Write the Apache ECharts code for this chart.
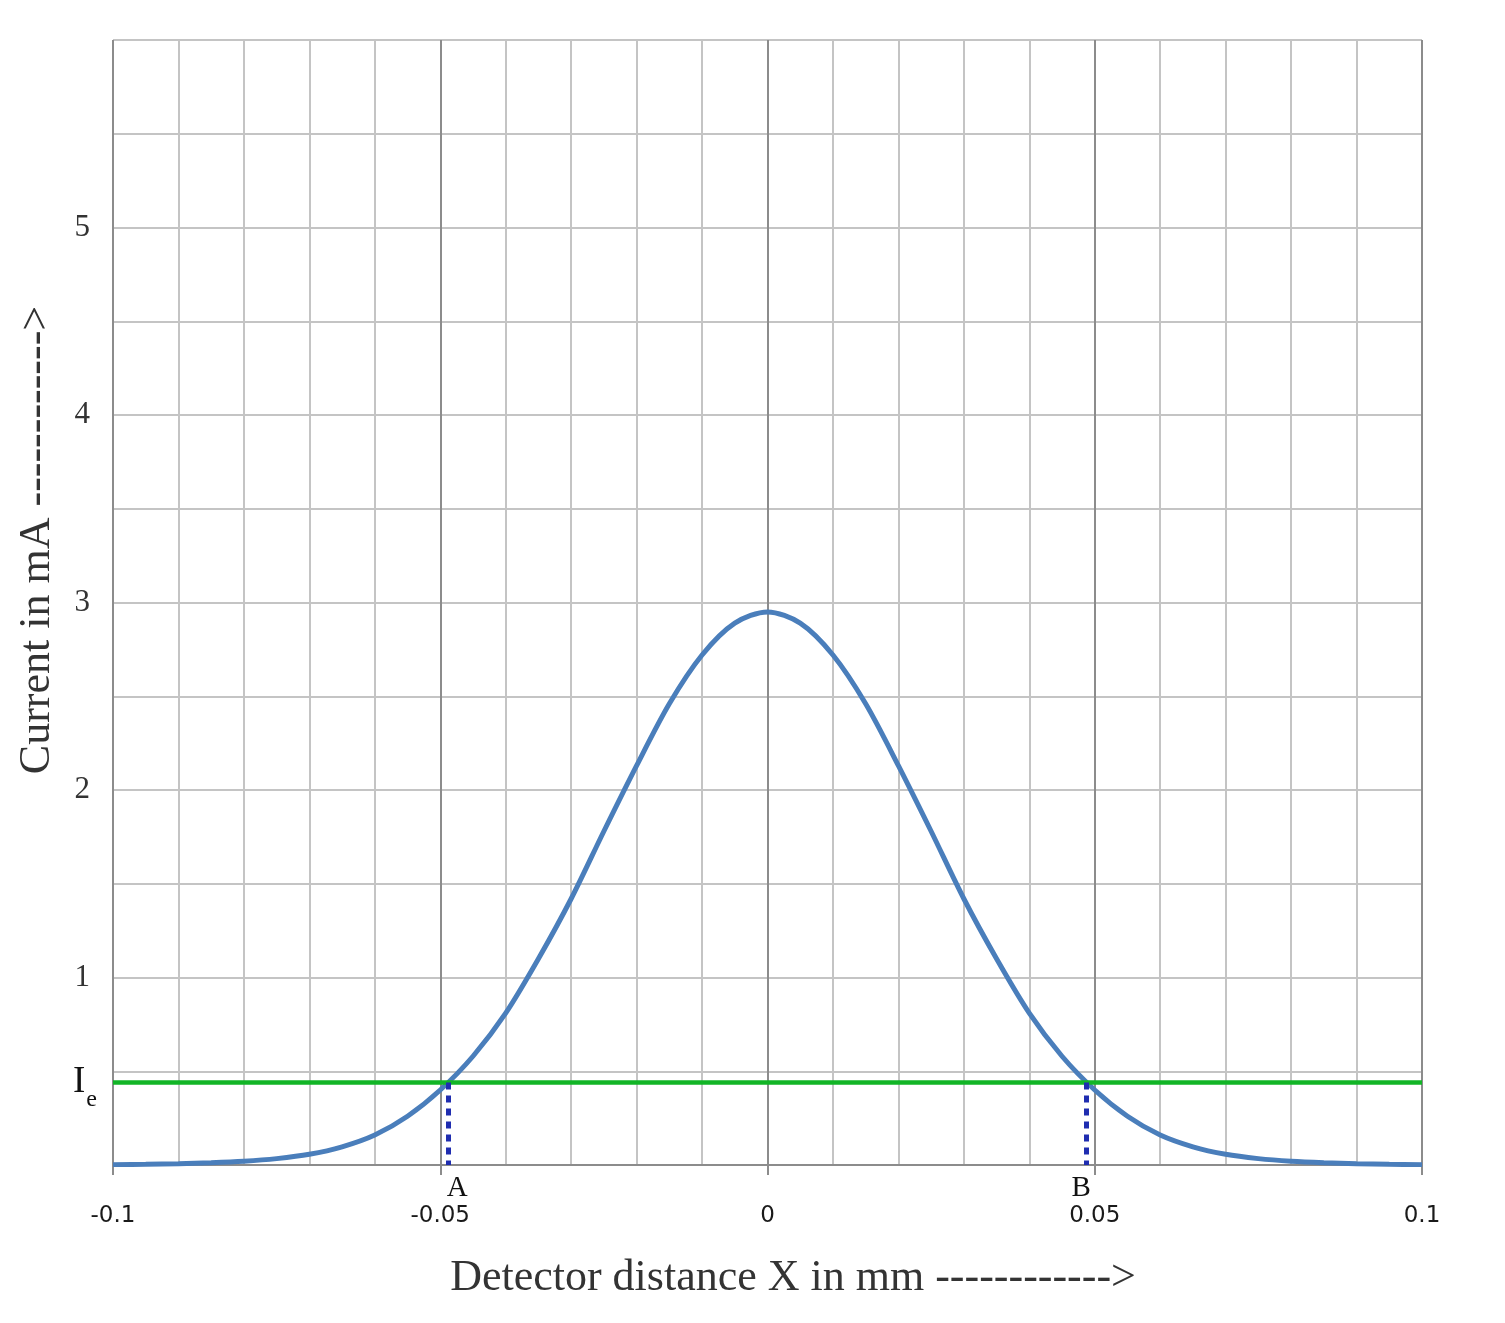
<!DOCTYPE html>
<html>
<head>
<meta charset="utf-8">
<script src="https://cdn.jsdelivr.net/npm/echarts@6/dist/echarts.min.js"></script>
<style>
  html, body { margin: 0; padding: 0; background: #fff; }
  #main { width: 1505px; height: 1323px; }
</style>
</head>
<body>
<div id="main"></div>
<script>
// detector distance (mm) and current (mA)
const distance = [-0.1, -0.095, -0.09, -0.085, -0.08, -0.075, -0.07, -0.065, -0.06, -0.055,
  -0.05, -0.045, -0.04, -0.035, -0.03, -0.025, -0.02, -0.015, -0.01, -0.005,
  0, 0.005, 0.01, 0.015, 0.02, 0.025, 0.03, 0.035, 0.04, 0.045,
  0.05, 0.055, 0.06, 0.065, 0.07, 0.075, 0.08, 0.085, 0.09, 0.095, 0.1];
const current = [0.002, 0.004, 0.007, 0.012, 0.02, 0.034, 0.057, 0.097, 0.16, 0.26,
  0.40, 0.58, 0.81, 1.10, 1.42, 1.78, 2.13, 2.46, 2.72, 2.89,
  2.95, 2.89, 2.72, 2.46, 2.13, 1.78, 1.42, 1.10, 0.81, 0.58,
  0.40, 0.26, 0.16, 0.097, 0.057, 0.034, 0.02, 0.012, 0.007, 0.004, 0.002];
const ieLevel = 0.44;
const pointA = -0.0488;
const pointB = 0.0487;
const yTickLabels = [1, 2, 3, 4, 5];
const xTickLabels = ['-0.1', '-0.05', '0', '0.05', '0.1'];

const serif = '"Liberation Serif", "Times New Roman", serif';
const sans = '"DejaVu Sans", Verdana, sans-serif';

const myChart = echarts.init(document.getElementById('main'));
window.onresize = myChart.resize;

myChart.setOption({
  animation: false,
  grid: { left: 113, right: 83, top: 40, bottom: 158 },
  xAxis: {
    type: 'value',
    min: -0.1,
    max: 0.1,
    interval: 0.05,
    axisLine: { show: true, onZero: false, lineStyle: { color: '#8c8c8c', width: 2 } },
    axisTick: { show: true, length: 10, lineStyle: { color: '#8c8c8c', width: 2 } },
    axisLabel: {
      margin: 40,
      fontFamily: sans,
      fontSize: 23,
      color: '#1a1a1a',
      formatter: function (v) {
        const i = Math.round((v + 0.1) / 0.05);
        return xTickLabels[i] || '';
      }
    },
    splitLine: { show: true, lineStyle: { color: '#8c8c8c', width: 2 } },
    minorTick: { show: false, splitNumber: 5 },
    minorSplitLine: { show: true, lineStyle: { color: '#c4c4c4', width: 2 } }
  },
  yAxis: {
    type: 'value',
    min: 0,
    max: 6,
    interval: 0.5,
    axisLine: { show: false },
    axisTick: { show: false },
    axisLabel: {
      margin: 23,
      fontFamily: serif,
      fontSize: 31,
      color: '#333',
      formatter: function (v) {
        return yTickLabels.indexOf(v) >= 0 ? String(v) : '';
      }
    },
    splitLine: { show: true, lineStyle: { color: '#c4c4c4', width: 2 } }
  },
  series: [
    {
      type: 'line',
      data: distance.map((d, i) => [d, current[i]]),
      smooth: 0.3,
      showSymbol: false,
      lineStyle: { color: '#4a7ebb', width: 5 },
      z: 2
    },
    {
      type: 'line',
      data: [],
      z: 3,
      markLine: {
        silent: true,
        symbol: 'none',
        animation: false,
        data: [
          {
            yAxis: ieLevel,
            lineStyle: { color: '#12b526', width: 4.5, type: 'solid' },
            label: {
              show: true,
              position: 'start',
              distance: 16,
              formatter: '{i|I}{e|e}',
              rich: {
                i: { fontFamily: serif, fontSize: 37, color: '#111', lineHeight: 36 },
                e: { fontFamily: serif, fontSize: 24, color: '#111', padding: [34, 0, 0, 1] }
              }
            }
          },
          [
            { coord: [pointA, ieLevel] },
            {
              coord: [pointA, 0],
              lineStyle: { color: '#1f2db0', width: 5, type: [7, 6] },
              label: { show: true, position: 'end', distance: 9, offset: [9, 0], formatter: 'A',
                fontFamily: serif, fontSize: 29, color: '#111' }
            }
          ],
          [
            { coord: [pointB, ieLevel] },
            {
              coord: [pointB, 0],
              lineStyle: { color: '#1f2db0', width: 5, type: [7, 6] },
              label: { show: true, position: 'end', distance: 9, offset: [-5, 0], formatter: 'B',
                fontFamily: serif, fontSize: 29, color: '#111' }
            }
          ]
        ]
      }
    }
  ],
  graphic: [
    {
      type: 'text',
      x: 793,
      y: 1278,
      style: {
        text: 'Detector distance X in mm ------------>',
        fontFamily: serif,
        fontSize: 44,
        fill: '#333',
        align: 'center',
        verticalAlign: 'middle'
      }
    },
    {
      type: 'text',
      x: 37,
      y: 540,
      rotation: Math.PI / 2,
      style: {
        text: 'Current in mA ------------>',
        fontFamily: serif,
        fontSize: 44,
        fill: '#333',
        align: 'center',
        verticalAlign: 'middle'
      }
    }
  ]
});
</script>
</body>
</html>
